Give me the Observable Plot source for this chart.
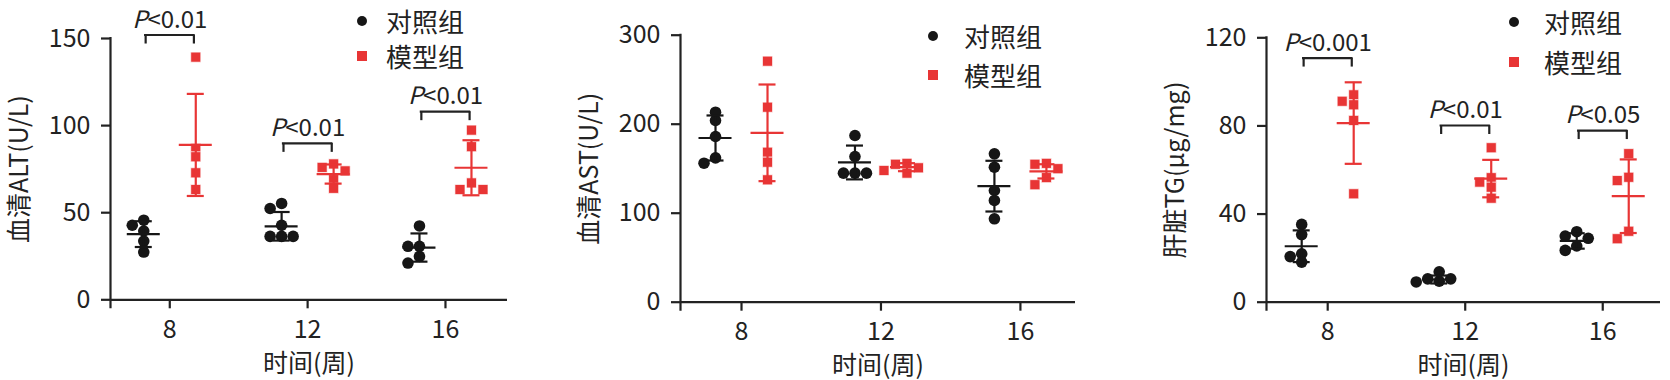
<!DOCTYPE html>
<html><head><meta charset="utf-8">
<script src="https://cdn.jsdelivr.net/npm/d3@7"></script>
<script src="https://cdn.jsdelivr.net/npm/@observablehq/plot@0.6"></script>
<style>
html,body{margin:0;padding:0;background:#fff;}
#root{position:relative;width:1670px;height:380px;overflow:hidden;font-family:"Noto Sans CJK SC","Noto Sans",sans-serif;color:#222;}
.panel{position:absolute;top:0;}
.leg{position:absolute;height:30px;line-height:30px;font-size:26px;white-space:nowrap;}
.sym{position:absolute;}
</style></head><body><div id="root"></div>
<script>
// ---------- data ----------
const weeks = [8, 12, 16];
const groupNames = ["对照组", "模型组"];
const xLabel = "时间(周)";

// Panel 1: serum ALT (U/L)
const altLabel = "血清ALT(U/L)";
const altTicks = [0, 50, 100, 150];
const altControl = [[45.7, 42.8, 39.5, 33.7, 27.4], [55.3, 52.4, 42.8, 36.4, 36.4, 36.4], [42.4, 30.7, 30.7, 24.9, 21.1]];
const altModel = [[139.3, 86.9, 82.1, 72.9, 63.3], [78, 76, 74, 69, 64], [97.4, 87.9, 67.1, 63.3, 63.3]];
const altControlMean = [37.7, 42.2, 30.0];
const altControlSD = [7.4, 8.2, 8.1];
const altModelMean = [88.9, 72.2, 75.8];
const altModelSD = [29.3, 5.5, 15.8];
const altPText = ["P<0.01", "P<0.01", "P<0.01"];
const altPLevel = [152, 89.8, 108];

// Panel 2: serum AST (U/L)
const astLabel = "血清AST(U/L)";
const astTicks = [0, 100, 200, 300];
const astControl = [[213.5, 204.2, 186.2, 162.2, 156.2], [187.3, 163.7, 145, 145, 145], [166.7, 151.7, 125.5, 114.3, 93.7]];
const astModel = [[270.8, 219.1, 168.5, 157.3, 137.5], [156, 155, 151, 148, 145], [156, 155, 150, 140, 132]];
const astControlMean = [184.5, 157.0, 130.4];
const astControlSD = [25.3, 19.0, 28.5];
const astModelMean = [190.3, 151.7, 147.0];
const astModelSD = [54.3, 4.5, 8.0];

// Panel 3: liver TG (μg/mg)
const tgLabel = "肝脏TG(μg/mg)";
const tgTicks = [0, 40, 80, 120];
const tgControl = [[35.3, 30.7, 22.0, 20.7, 18.2], [13.8, 10.6, 10.6, 9.5, 9.2], [32.0, 30.0, 29.0, 25.5, 23.5]];
const tgModel = [[94.1, 91.2, 89.6, 82.5, 49.2], [70.1, 56.5, 54.5, 52.2, 47.2], [67.4, 56.7, 55.2, 32.2, 28.8]];
const tgControlMean = [25.4, 10.3, 27.8];
const tgControlSD = [7.2, 1.8, 3.5];
const tgModelMean = [81.3, 56.1, 48.1];
const tgModelSD = [18.5, 8.5, 16.7];
const tgPText = ["P<0.001", "P<0.01", "P<0.05"];
const tgPLevel = [110.8, 80.2, 77.9];

// ---------- styling ----------
const INK = "#222";
const BLACK = "#161616";
const RED = "#e83535";
const H = 380;

const panels = [
  {left: 0, width: 560, mL: 110, mR: 53, mT: 38, mB: 80.7, xDomain: [6.28, 17.8], yDomain: [0, 150],
   label: altLabel, ticks: altTicks, control: altControl, model: altModel,
   cMean: altControlMean, cSD: altControlSD, mMean: altModelMean, mSD: altModelSD,
   pText: altPText, pLevel: altPLevel, legend: {x: 361.5, y1: 20.5, y2: 56, tx: 386}},
  {left: 560, width: 560, mL: 120, mR: 45, mT: 34.7, mB: 78.3, xDomain: [6.25, 17.58], yDomain: [0, 300],
   label: astLabel, ticks: astTicks, control: astControl, model: astModel,
   cMean: astControlMean, cSD: astControlSD, mMean: astModelMean, mSD: astModelSD,
   pText: null, pLevel: null, legend: {x: 933, y1: 36, y2: 74.5, tx: 964}},
  {left: 1120, width: 550, mL: 146, mR: 10, mT: 37.3, mB: 78.3, xDomain: [6.22, 17.68], yDomain: [0, 120],
   label: tgLabel, ticks: tgTicks, control: tgControl, model: tgModel,
   cMean: tgControlMean, cSD: tgControlSD, mMean: tgModelMean, mSD: tgModelSD,
   pText: tgPText, pLevel: tgPLevel, legend: {x: 1513.5, y1: 21.5, y2: 62, tx: 1544}}
];

const root = document.getElementById("root");

// deterministic scatter spreading (Prism-like): returns x offsets in px
function swarm(vals, pxY) {
  const order = d3.range(vals.length).sort((a, b) => vals[b] - vals[a]);
  const placed = [];
  const step = 11.5;
  const slots = [0, -1, 1, -2, 2, -3, 3];
  const res = new Array(vals.length).fill(0);
  for (const i of order) {
    for (const s of slots) {
      const ok = placed.every(p => Math.hypot((p.s - s) * step, (p.v - vals[i]) * pxY) >= 8);
      if (ok) { placed.push({s, v: vals[i]}); res[i] = s * step; break; }
    }
  }
  return res;
}

for (const cfg of panels) {
  const pxX = (cfg.width - cfg.mL - cfg.mR) / (cfg.xDomain[1] - cfg.xDomain[0]);
  const pxY = (H - cfg.mT - cfg.mB) / (cfg.yDomain[1] - cfg.yDomain[0]);
  const gOff = 26 / pxX;  // group offset from week tick
  const marks = [];

  const groupsSpec = [
    {vals: cfg.control, mean: cfg.cMean, sd: cfg.cSD, color: BLACK, symbol: "circle", r: 5.8, sign: -1},
    {vals: cfg.model, mean: cfg.mMean, sd: cfg.mSD, color: RED, symbol: "square", r: 5.7, sign: 1}
  ];

  for (const g of groupsSpec) {
    const pts = [];
    weeks.forEach((w, i) => {
      const offs = swarm(g.vals[i], pxY);
      g.vals[i].forEach((v, j) => pts.push({x: w + g.sign * gOff + offs[j] / pxX, y: v}));
    });
    const stats = weeks.map((w, i) => ({x: w + g.sign * gOff, mean: g.mean[i], sd: g.sd[i]}));
    marks.push(
      Plot.dot(pts, {x: "x", y: "y", r: g.r, symbol: g.symbol, fill: g.color,
                     stroke: g.symbol === "square" ? "white" : "none", strokeWidth: 0.7}),
      Plot.ruleX(stats, {x: "x", y1: d => d.mean - d.sd, y2: d => d.mean + d.sd, stroke: g.color, strokeWidth: 2.2}),
      Plot.ruleY(stats, {y: "mean", x1: d => d.x - 16.5 / pxX, x2: d => d.x + 16.5 / pxX, stroke: g.color, strokeWidth: 2.2}),
      Plot.ruleY(stats, {y: d => d.mean + d.sd, x1: d => d.x - 8.5 / pxX, x2: d => d.x + 8.5 / pxX, stroke: g.color, strokeWidth: 2.2}),
      Plot.ruleY(stats, {y: d => d.mean - d.sd, x1: d => d.x - 8.5 / pxX, x2: d => d.x + 8.5 / pxX, stroke: g.color, strokeWidth: 2.2})
    );
  }

  if (cfg.pText) {
    const ann = weeks.map((w, i) => ({x1: w - 0.7, x2: w + 0.7, y: cfg.pLevel[i], label: cfg.pText[i]}));
    marks.push(
      Plot.ruleY(ann, {y: "y", x1: "x1", x2: "x2", stroke: INK, strokeWidth: 2.2, strokeLinecap: "square"}),
      Plot.ruleX(ann, {x: "x1", y1: "y", y2: d => d.y - 9 / pxY, stroke: INK, strokeWidth: 2.2}),
      Plot.ruleX(ann, {x: "x2", y1: "y", y2: d => d.y - 9 / pxY, stroke: INK, strokeWidth: 2.2}),
      Plot.text(ann, {x: d => (d.x1 + d.x2) / 2, y: "y", text: "label", dy: -7.5, lineAnchor: "bottom",
                      fontSize: 24, fill: INK})
    );
  }

  marks.push(
    Plot.ruleY([cfg.yDomain[0]], {stroke: INK, strokeWidth: 2.2}),
    Plot.ruleX([cfg.xDomain[0]], {stroke: INK, strokeWidth: 2.2, insetBottom: -9, insetTop: -1}),
    Plot.axisY({ticks: cfg.ticks, tickSize: 9, tickPadding: 11, fontSize: 25, color: INK, strokeWidth: 2.2,
                label: cfg.label, labelAnchor: "center", labelArrow: "none", labelOffset: 100, tickFormat: d => String(d)}),
    Plot.axisX({ticks: weeks, tickSize: 9, tickPadding: 11, fontSize: 25, color: INK, strokeWidth: 2.2,
                label: xLabel, labelAnchor: "center", labelArrow: "none", labelOffset: 72, tickFormat: d => String(d)})
  );

  const chart = Plot.plot({
    width: cfg.width, height: H,
    marginLeft: cfg.mL, marginRight: cfg.mR, marginTop: cfg.mT, marginBottom: cfg.mB,
    x: {domain: cfg.xDomain, nice: false},
    y: {domain: cfg.yDomain, nice: false},
    style: {fontFamily: '"Noto Sans CJK SC", "Noto Sans", sans-serif', background: "white", overflow: "visible"},
    marks
  });

  // italic "P" in significance labels
  chart.querySelectorAll("text").forEach(t => {
    const s = t.textContent;
    if (s.startsWith("P<")) {
      t.textContent = "";
      const ns = "http://www.w3.org/2000/svg";
      const a = document.createElementNS(ns, "tspan");
      a.setAttribute("font-style", "italic");
      a.textContent = "P";
      const b = document.createElementNS(ns, "tspan");
      b.textContent = s.slice(1);
      t.appendChild(a); t.appendChild(b);
    }
  });

  const wrap = document.createElement("div");
  wrap.className = "panel";
  wrap.style.left = cfg.left + "px";
  wrap.style.width = cfg.width + "px";
  wrap.appendChild(chart);
  root.appendChild(wrap);

  // legend
  const L = cfg.legend;
  const dot = document.createElement("div");
  dot.className = "sym";
  Object.assign(dot.style, {left: (L.x - 5) + "px", top: (L.y1 - 5) + "px", width: "10px", height: "10px",
                            borderRadius: "50%", background: BLACK});
  const sq = document.createElement("div");
  sq.className = "sym";
  Object.assign(sq.style, {left: (L.x - 5) + "px", top: (L.y2 - 5) + "px", width: "10px", height: "10px", background: RED});
  root.appendChild(dot); root.appendChild(sq);
  [[groupNames[0], L.y1], [groupNames[1], L.y2]].forEach(([name, y]) => {
    const t = document.createElement("div");
    t.className = "leg";
    t.style.left = L.tx + "px";
    t.style.top = Math.max(0, y - 15) + "px";
    t.textContent = name;
    root.appendChild(t);
  });
}
</script></body></html>
